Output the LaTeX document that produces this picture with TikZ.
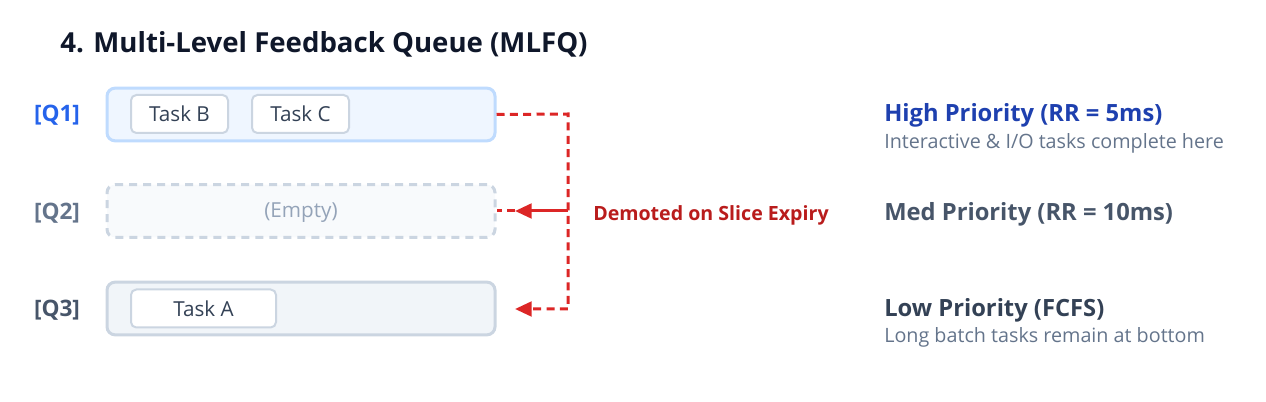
\documentclass[tikz,border=0pt]{standalone}
\usepackage{fontspec}
\setmainfont{Open Sans}
\usepackage{xcolor}
\usetikzlibrary{arrows.meta, positioning}
\definecolor{ink}{HTML}{0F172A}
\definecolor{qblue}{HTML}{2563EB}
\definecolor{qgray}{HTML}{64748B}
\definecolor{qslate}{HTML}{475569}
\definecolor{qdark}{HTML}{334155}
\definecolor{hifill}{HTML}{EFF6FF}
\definecolor{hiline}{HTML}{BFDBFE}
\definecolor{midfill}{HTML}{F8FAFC}
\definecolor{lofill}{HTML}{F1F5F9}
\definecolor{edge}{HTML}{CBD5E1}
\definecolor{emptytxt}{HTML}{94A3B8}
\definecolor{demote}{HTML}{DC2626}
\definecolor{demotetxt}{HTML}{B91C1C}
\definecolor{hitxt}{HTML}{1E40AF}

\begin{document}
\begin{tikzpicture}[x=0.75pt, y=-0.75pt,
    qlabel/.style={font=\fontsize{17}{20}\selectfont\bfseries},
    queue/.style={rectangle, rounded corners=6pt, line width=2.25pt,
                  minimum width=291pt, minimum height=39.5pt, inner sep=0pt},
    task/.style={rectangle, rounded corners=4pt, draw=edge, fill=white, line width=1.5pt,
                 minimum height=28.5pt, inner sep=0pt, text=qdark,
                 font=\fontsize{15.5}{18}\selectfont},
    head/.style={anchor=west, inner sep=0pt, font=\fontsize{17.8}{21}\selectfont\bfseries},
    note/.style={anchor=west, inner sep=0pt, text=qgray, font=\fontsize{14.8}{18}\selectfont},
    flow/.style={draw=demote, line width=2.25pt, dash pattern=on 6pt off 4pt},
    tip/.style={-{Triangle[length=12.5pt, width=11pt]}}]

    \useasboundingbox (0,0) rectangle (1266,402);

    % Title
    \node[anchor=west, inner sep=0pt, text=ink, font=\fontsize{20.7}{25}\selectfont\bfseries]
        (title) at (60,44) {4. Multi-Level Feedback Queue (MLFQ)};

    % Queues
    \node[qlabel, text=qblue] (l1) at (57,115) {[Q1]};
    \node[qlabel, text=qgray] (l2) at (57,213) {[Q2]};
    \node[qlabel, text=qslate] (l3) at (57,310) {[Q3]};

    \node[queue, draw=hiline, fill=hifill] (q1) at (301,114.5) {};
    \node[queue, draw=edge, fill=midfill, dash pattern=on 6pt off 4.5pt] (q2) at (301,211) {};
    \node[queue, draw=edge, fill=lofill] (q3) at (301,308.5) {};

    \node[task, minimum width=72.75pt] (tb) at (179.5,114) {Task B};
    \node[task, minimum width=72.75pt] (tc) at (300.5,114) {Task C};
    \node[text=emptytxt, font=\fontsize{15.5}{18}\selectfont] (empty) at (301,213) {(Empty)};
    \node[task, minimum width=108.75pt] (ta) at (203.5,308.5) {Task A};

    % Demotion path
    \coordinate (top) at (568,114);
    \coordinate (split) at (568,211);
    \coordinate (bottom) at (568,309);
    \coordinate (q2in) at (515,211);
    \coordinate (q3in) at (515,309);

    \draw[flow, tip] (q1.east) -- (top) -- (bottom) -- (q3in);
    \draw[flow] (q2in) -- (q2.east);
    \draw[draw=demote, line width=2.25pt, tip] (split) -- (q2in);
    \node[anchor=west, inner sep=0pt, text=demotetxt, font=\fontsize{14.7}{18}\selectfont\bfseries]
        (demoted) at (593,215) {Demoted on Slice Expiry};

    % Priorities
    \node[head, text=hitxt] (hi) at (884,115.5) {High Priority (RR = 5ms)};
    \node[note] (hinote) at (884,143.5) {Interactive \& I/O tasks complete here};
    \node[head, text=qslate] (med) at (884,214.5) {Med Priority (RR = 10ms)};
    \node[head, text=qdark] (lo) at (884,310.5) {Low Priority (FCFS)};
    \node[note] (lonote) at (884,337.5) {Long batch tasks remain at bottom};
\end{tikzpicture}
\end{document}
